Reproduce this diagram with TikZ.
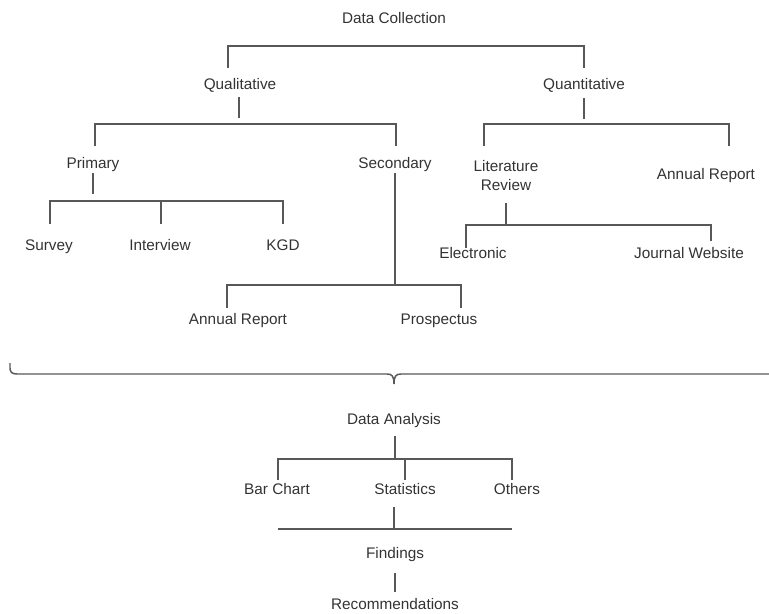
\documentclass[tikz,border=0pt]{standalone}
\usepackage{fontspec}
\setmainfont{Liberation Sans}
\definecolor{inkgray}{RGB}{51,51,51}
\definecolor{linegray}{RGB}{88,88,88}
\tikzset{every picture/.style={line width=1.1pt}}
\tikzset{
  lbl/.style={text=inkgray, font=\fontsize{11.5}{14.25}\selectfont, inner sep=0pt, align=center},
  tag/.style={lbl, text height=1em, text depth=0.12em},
  wire/.style={draw=linegray}
}

\begin{document}
\begin{tikzpicture}[x=0.75pt,y=0.75pt,yscale=-1,xscale=1]
\useasboundingbox (0,0) rectangle (769,614);

%Text
\node[tag] (dc) at (394,18) {Data Collection};
\node[tag] (qual) at (240,84) {Qualitative};
\node[tag] (quan) at (584,84) {Quantitative};
\node[tag] (prim) at (93,163) {Primary};
\node[tag] (sec) at (395,163) {Secondary};
\node[lbl] (litrev) at (506,176) {Literature\\Review};
\node[tag] (annq) at (706,174) {Annual Report};
\node[tag] (surv) at (49,245) {Survey};
\node[tag] (intv) at (160,245) {Interview};
\node[tag] (kgd) at (283,245) {KGD};
\node[tag] (elec) at (473,253) {Electronic};
\node[tag] (jweb) at (689,253) {Journal Website};
\node[tag] (anns) at (238,319) {Annual Report};
\node[tag] (prosp) at (439,319) {Prospectus};
\node[tag] (da) at (394,419) {Data Analysis};
\node[tag] (bar) at (277,489) {Bar Chart};
\node[tag] (stat) at (405,489) {Statistics};
\node[tag] (oth) at (517,489) {Others};
\node[tag] (find) at (395,553) {Findings};
\node[tag] (rec) at (395,604) {Recommendations};

%Bracket ends above each child
\coordinate (qual-in) at (228,68);
\coordinate (quan-in) at (584,68);
\coordinate (prim-in) at (95,146);
\coordinate (sec-in) at (396,146);
\coordinate (litrev-in) at (484,146);
\coordinate (annq-in) at (729,146);
\coordinate (surv-in) at (50,224);
\coordinate (intv-in) at (161,224);
\coordinate (kgd-in) at (283,224);
\coordinate (elec-in) at (466,248);
\coordinate (jweb-in) at (711,241);
\coordinate (anns-in) at (227,308);
\coordinate (prosp-in) at (461,308);
\coordinate (bar-in) at (278,480);
\coordinate (stat-in) at (405,480);
\coordinate (oth-in) at (512,480);

%Straight Lines
\draw[wire] (qual-in) -- ++(0,-22) -| (quan-in);
\draw[wire] (qual) ++(-1,13) -- ++(0,21);
\draw[wire] (prim-in) -- ++(0,-22) -| (sec-in);
\draw[wire] (quan) ++(0,14) -- ++(0,21);
\draw[wire] (litrev-in) -- ++(0,-22) -| (annq-in);
\draw[wire] (prim) ++(0,10) -- ++(0,21);
\draw[wire] (surv-in) -- ++(0,-23) -| (kgd-in);
\draw[wire] (intv-in) -- ++(0,-23);
\draw[wire] (sec) ++(0,10) -- (sec |- 0,285);
\draw[wire] (anns-in) -- ++(0,-23) -| (prosp-in);
\draw[wire] (litrev) ++(0,27) -- ++(0,22);
\draw[wire] (elec-in) -- ++(0,-23) -| (jweb-in);

%Curly bracket
\draw[wire] (10,363) -- (10,368) .. controls (10,372) and (12,374) .. (17,374) -- (387,374) .. controls (392,374) and (394,376) .. (394,384);
\draw[wire] (769,374) -- (401,374) .. controls (396,374) and (394,376) .. (394,384);

%Straight Lines
\draw[wire] (da) ++(1,17) -- ++(0,23);
\draw[wire] (bar-in) -- ++(0,-21) -| (oth-in);
\draw[wire] (stat-in) -- ++(0,-21);
\draw[wire] (stat) ++(-11,18) -- ++(0,22);
\draw[wire] (278,529) -- (512,529);
\draw[wire] (find) ++(0,20) -- ++(0,19);

\end{tikzpicture}
\end{document}
